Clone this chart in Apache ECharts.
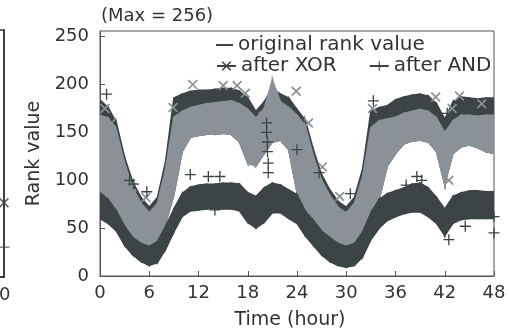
<!DOCTYPE html>
<html>
<head>
<meta charset="utf-8">
<script src="https://cdn.jsdelivr.net/npm/echarts@6/dist/echarts.min.js"></script>
<style>
  html, body { margin: 0; padding: 0; background: #fff; }
  #chart { width: 509px; height: 329px; }
</style>
</head>
<body>
<div id="chart"></div>
<script>
// time axis (hours) and band edges
const hours = [0,1,2,3,4,5,6,7,8,9,10,11,12,13,14,15,16,17,18,19,20,21,22,23,24,
  25,26,27,28,29,30,31,32,33,34,35,36,37,38,39,40,41,42,43,44,45,46,47,48];

// original rank value (dark upper band, top edge)
const origTop = [184,176,160,124,98,82,72,82,120,186,190,193,194,194,195,196,196,193,186,172,182,196,190,186,174,
  163,132,106,90,78,72,82,112,172,176,178,184,187,189,190,188,180,164,182,187,186,185,186,186];

// after XOR (light band)
const xorTop = [168,165,152,118,92,76,66,76,112,166,172,176,178,180,181,182,183,180,174,165,175,205,182,176,168,
  157,125,100,84,72,66,76,104,155,162,164,166,170,172,174,172,165,150,162,168,168,167,168,168];
const xorBot = [88,79,66,52,40,33,31,36,55,85,130,145,147,148,148,149,148,140,118,115,128,140,142,132,88,
  70,58,47,40,34,31,34,46,62,80,115,128,138,141,142,140,130,96,128,135,137,134,130,128];

// after AND (dark lower band)
const andTop = [87,80,68,52,40,34,31,36,52,70,86,93,95,96,96,97,97,96,87,83,92,97,95,90,85,
  68,58,47,40,34,31,34,46,66,80,86,89,92,96,97,92,82,70,83,87,89,89,88,88];
const andBot = [60,55,47,32,22,15,11,14,28,46,62,68,69,70,70,70,70,68,56,50,56,66,66,60,55,
  42,32,22,15,11,9,11,20,38,50,58,62,65,67,67,62,55,42,55,59,60,60,60,60];

// scattered outlier markers
const xorMarks = [[0.6,175],[1.4,160],[3.9,93],[5.6,82],[8.9,176],[11.3,200],[15,199],[16.7,199],
  [17.7,191],[19.9,167],[23.9,193],[25.4,160],[27.1,114],[29.2,83],[33.2,175],[40.9,187],
  [42.9,175],[43.8,188],[46.5,180],[42.5,100]];
const andMarks = [[0.8,190],[3.6,100],[4.1,96],[5.7,88],[11,106],[13.2,104],[14.6,104],[14,69],
  [20.3,160],[20.3,150],[20.4,140],[20.4,130],[20.5,118],[20.5,108],[24,132],[22.9,66],
  [26.7,108],[30.5,86],[33.3,183],[37.3,95],[38.6,104],[39.2,100],[42.3,170],[42.5,38],
  [44.5,52],[48,45],[48,62]];

// neighbouring panel edge (only its last points are visible)
const sideXor = [[10,77]];
const sideAnd = [[10,31]];

const dark = '#3c4446';
const gray = '#8b9297';
const txt = '#333';
const xPath = 'path://M0,1.2L1.2,0L10,8.8L8.8,10Z M8.8,0L10,1.2L1.2,10L0,8.8Z';
const plusPath = 'path://M4.4,0H5.6V10H4.4Z M0,4.4H10V5.6H0Z';

// filled band between lo and hi, one quad per hour step
function band(name, lo, hi, color) {
  const rows = [];
  for (let i = 0; i < hours.length - 1; i++) {
    rows.push([hours[i], lo[i], hi[i], hours[i + 1], lo[i + 1], hi[i + 1]]);
  }
  return {
    name: name, type: 'custom', silent: true, clip: true,
    encode: { x: [0, 3], y: [1, 2, 4, 5] },
    data: rows,
    renderItem: function (params, api) {
      const a = api.coord([api.value(0), api.value(1)]);
      const b = api.coord([api.value(0), api.value(2)]);
      const c = api.coord([api.value(3), api.value(5)]);
      const d = api.coord([api.value(3), api.value(4)]);
      return {
        type: 'polygon',
        shape: { points: [a, b, c, d] },
        style: { fill: color, stroke: color, lineWidth: 1.5 }
      };
    }
  };
}

const chart = echarts.init(document.getElementById('chart'));

const option = {
  animation: false,
  textStyle: { fontFamily: 'DejaVu Sans' },
  title: {
    text: '(Max = 256)', left: 96, top: 2,
    textStyle: { fontSize: 18, fontWeight: 'normal', color: txt, fontFamily: 'DejaVu Sans' }
  },
  legend: [
    { data: ['original rank value'], left: 216, top: 35, padding: 0, icon: 'rect',
      itemWidth: 17, itemHeight: 2, textStyle: { fontSize: 20, color: txt } },
    { data: ['after XOR', 'after AND'], left: 216, top: 56, padding: 0, itemGap: 32,
      itemWidth: 19, itemHeight: 12, textStyle: { fontSize: 20, color: txt } }
  ],
  grid: [
    { left: 100, right: 15, top: 31, bottom: 53, outerBoundsMode: 'none',
      show: true, borderColor: '#555', borderWidth: 1 },
    { left: -60, right: 505, top: 30, bottom: 52, outerBoundsMode: 'none',
      show: true, borderColor: '#333', borderWidth: 1.5 }
  ],
  xAxis: [
    { type: 'value', gridIndex: 0, min: 0, max: 48, interval: 6,
      name: 'Time (hour)', nameLocation: 'middle', nameGap: 35,
      nameTextStyle: { fontSize: 19, color: txt, padding: [0, 14, 0, 0] },
      axisLine: { lineStyle: { color: '#555' } },
      axisTick: { inside: true, length: 5, lineStyle: { color: '#555' } },
      axisLabel: { fontSize: 18, color: txt, margin: 8 },
      splitLine: { show: false } },
    { type: 'value', gridIndex: 1, min: 0, max: 10, interval: 10,
      axisLine: { show: true, onZero: false, lineStyle: { color: '#333', width: 1.5 } },
      axisTick: { show: false },
      axisLabel: { fontSize: 18, color: txt, margin: 9, padding: [0, 10, 0, 0] },
      splitLine: { show: false } }
  ],
  yAxis: [
    { type: 'value', gridIndex: 0, min: 0, max: 256, interval: 50,
      name: 'Rank value', nameLocation: 'middle', nameGap: 46,
      nameTextStyle: { fontSize: 19, color: txt },
      axisLine: { show: true, lineStyle: { color: '#555' } },
      axisTick: { show: true, inside: true, length: 5, lineStyle: { color: '#555' } },
      axisLabel: { fontSize: 18, color: txt, margin: 11, showMaxLabel: false },
      splitLine: { show: false } },
    { type: 'value', gridIndex: 1, min: 0, max: 256, interval: 50, position: 'right',
      axisLine: { show: true, onZero: false, lineStyle: { color: '#333', width: 1.5 } },
      axisTick: { show: false },
      axisLabel: { show: false },
      splitLine: { show: false } }
  ],
  series: [
    band('origBand', xorBot, origTop, dark),
    band('xorBand', xorBot, xorTop, gray),
    band('andBand', andBot, andTop, dark),
    { name: 'xorMarks', type: 'scatter', symbol: xPath, symbolSize: 10, silent: true,
      itemStyle: { color: gray, opacity: 1 }, data: xorMarks },
    { name: 'andMarks', type: 'scatter', symbol: plusPath, symbolSize: 11, silent: true,
      itemStyle: { color: dark, opacity: 1 }, data: andMarks },
    { name: 'sideXor', type: 'scatter', xAxisIndex: 1, yAxisIndex: 1, symbol: xPath, symbolSize: 10,
      itemStyle: { color: dark }, data: sideXor, clip: false },
    { name: 'sideAnd', type: 'scatter', xAxisIndex: 1, yAxisIndex: 1, symbol: plusPath, symbolSize: 11,
      itemStyle: { color: dark }, data: sideAnd, clip: false },
    // legend entries
    { name: 'original rank value', type: 'line', symbol: 'none', data: [],
      itemStyle: { color: dark }, lineStyle: { color: dark, width: 2 } },
    { name: 'after XOR', type: 'line', symbol: xPath, data: [],
      itemStyle: { color: dark }, lineStyle: { color: dark, width: 2 } },
    { name: 'after AND', type: 'line', symbol: plusPath, data: [],
      itemStyle: { color: dark }, lineStyle: { color: dark, width: 2 } }
  ]
};

chart.setOption(option);
</script>
</body>
</html>
